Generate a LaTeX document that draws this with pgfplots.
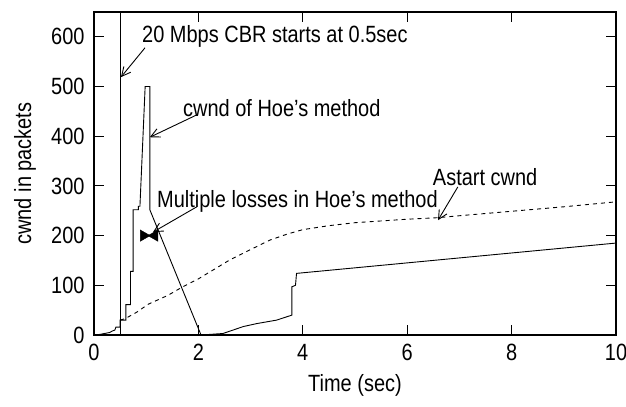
\documentclass[border=0pt]{standalone}
\usepackage{pgfplots}
\pgfplotsset{compat=1.18}
\usepackage{fontspec}
\setmainfont{Liberation Sans}[FakeStretch=0.85]
\usetikzlibrary{arrows.meta}
\begin{document}
\begin{tikzpicture}[font=\fontsize{23.5bp}{27bp}\selectfont, >={Straight Barb[length=9bp,width=9bp]}]
\begin{axis}[
  scale only axis, width=522bp, height=323bp,
  xmin=0, xmax=10, ymin=0, ymax=650,
  xtick={0,2,4,6,8,10}, ytick={0,100,...,600},
  tick align=inside, major tick length=10bp,
  axis line style={line width=1.1bp},
  every tick/.style={line width=1bp, black},
  /pgf/number format/assume math mode=true,
  xticklabel style={yshift=-6bp},
  yticklabel style={xshift=-6bp},
  xlabel={Time (sec)}, ylabel={cwnd in packets},
  xlabel style={at={(axis description cs:0.5,0)}, anchor=center, yshift=-50bp},
  ylabel style={at={(axis description cs:0,0.5)}, anchor=center, yshift=69bp},
  clip=false,
]
\coordinate (O) at (axis cs:0,0);
% CBR start line
\addplot[black, line width=0.9bp] coordinates {(0.5,0) (0.5,650)};
% Hoe's cwnd
\addplot[black, line width=0.9bp] coordinates {
(0,0) (0.1,1) (0.2,3) (0.3,5) (0.35,8) (0.4,10) (0.42,16) (0.5,16) (0.5,30)
(0.61,30) (0.61,61) (0.70,61) (0.70,128) (0.75,128) (0.75,252) (0.85,252)
(0.85,259) (0.88,259) (0.98,500) (1.07,500) (1.07,252) (2.05,0)
(2.47,3) (2.86,17) (3.12,23) (3.5,30) (3.79,40) (3.79,97) (3.86,100)
(3.88,124) (10,185)};
% Astart cwnd
\addplot[black, line width=0.9bp, dash pattern=on 4bp off 4bp] coordinates {
(0.5,30) (0.6,33) (0.82,46) (1.04,62) (1.42,80) (1.7,97) (2.0,113) (2.3,132)
(2.6,151) (3.0,172) (3.37,191) (3.7,203) (4.0,212) (4.5,220) (5.0,226)
(6.0,233) (6.57,236) (7,240) (8,249) (9,258) (10,268)};
% multiple losses marker (bowtie)
\addplot[black, only marks, mark=triangle*, mark size=6.5bp, mark options={rotate=-90}] coordinates {(0.95,200)};
\addplot[black, only marks, mark=triangle*, mark size=6.5bp, mark options={rotate=90}] coordinates {(1.16,200)};
% annotations
\node[anchor=west, inner sep=0] at (axis cs:0.92,600) {20 Mbps CBR starts at 0.5sec};
\draw[->, line width=0.9bp] (axis cs:0.977,578) -- (axis cs:0.517,519);
\node[anchor=west, inner sep=0] at (axis cs:1.705,457) {cwnd of Hoe’s method};
\draw[->, line width=0.9bp] (axis cs:1.97,443) -- (axis cs:1.07,398);
\node[anchor=west, inner sep=0] at (axis cs:1.207,268) {Multiple losses in Hoe’s method};
\draw[->, line width=0.9bp] (axis cs:1.97,258) -- (axis cs:1.13,207);
\node[anchor=west, inner sep=0] at (axis cs:6.49,318) {Astart cwnd};
\draw[->, line width=0.9bp] (axis cs:6.97,298) -- (axis cs:6.59,231);
\end{axis}
\pgfresetboundingbox
\path[use as bounding box] (O) ++(-94bp,-72bp) rectangle ++(626bp,407bp);
\end{tikzpicture}
\end{document}
